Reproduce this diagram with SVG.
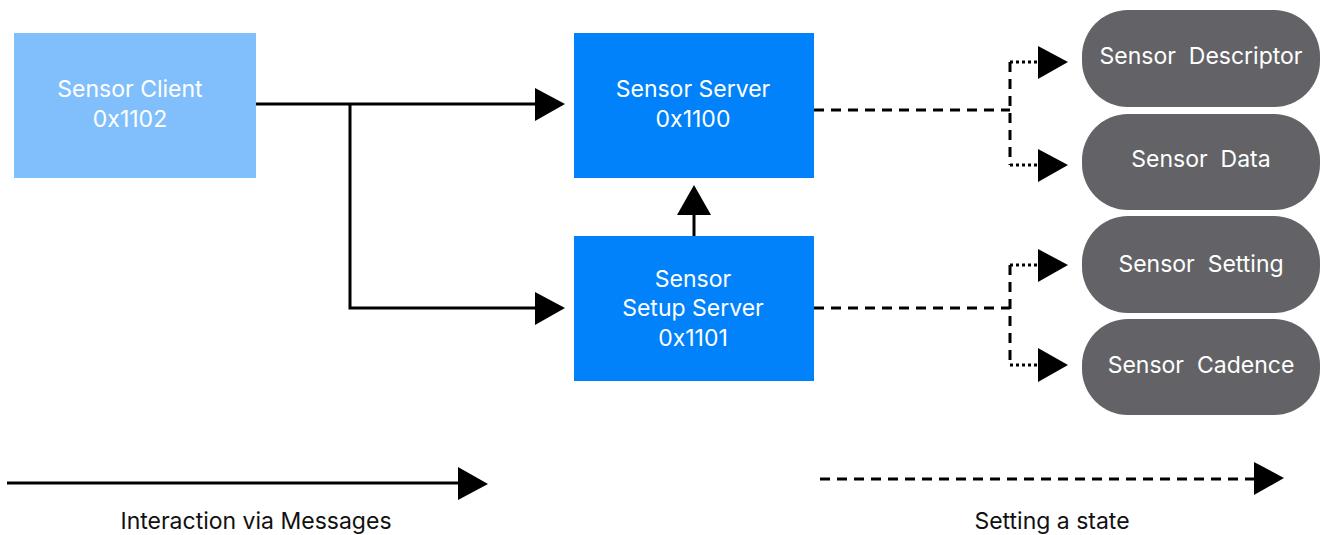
<svg xmlns="http://www.w3.org/2000/svg" width="1320" height="535" viewBox="0 0 1320 535">
<style>
text{font-family:"Inter","Liberation Sans",sans-serif;font-size:23px;text-anchor:middle;white-space:pre}
.w{fill:#ffffff}
.k{fill:#111111}
.solid{fill:none;stroke:#000;stroke-width:3}
.dash{fill:none;stroke:#000;stroke-width:3;stroke-dasharray:10 7}
.dot{fill:none;stroke:#000;stroke-width:3;stroke-dasharray:3 3}
.head{fill:#000}
.state{fill:#636367}
</style>
<rect width="1320" height="535" fill="#ffffff"/>
<g id="connectors">
<path class="solid" d="M256 104 H536"/>
<polygon class="head" points="535,88 565,104 535,121"/>
<path class="solid" d="M350 104 V308 H536"/>
<polygon class="head" points="535,292 565,308 535,325"/>
<path class="solid" d="M694 236 V212"/>
<polygon class="head" points="677,215 694,185 711,215"/>
<path class="dash" d="M814 110 H1010"/>
<path class="dash" d="M1010 62 V165"/>
<path class="dot" d="M1010 62 H1040 M1010 165 H1040"/>
<polygon class="head" points="1038,46 1068,62 1038,79"/>
<polygon class="head" points="1038,149 1068,165 1038,182"/>
<path class="dash" d="M814 308 H1010"/>
<path class="dash" d="M1010 265 V365"/>
<path class="dot" d="M1010 265 H1040 M1010 365 H1040"/>
<polygon class="head" points="1038,249 1068,265 1038,282"/>
<polygon class="head" points="1038,348 1068,365 1038,382"/>
</g>
<g id="sensor-client">
<rect x="14" y="33" width="242" height="145" fill="#81bffc"/>
<text class="w" x="130" y="97">Sensor Client</text>
<text class="w" x="130" y="127">0x1102</text>
</g>
<g id="sensor-server">
<rect x="574" y="33" width="240" height="145" fill="#0282fa"/>
<text class="w" x="693" y="97">Sensor Server</text>
<text class="w" x="693" y="127">0x1100</text>
</g>
<g id="sensor-setup-server">
<rect x="574" y="236" width="240" height="145" fill="#0282fa"/>
<text class="w" x="693" y="287">Sensor</text>
<text class="w" x="693" y="316">Setup Server</text>
<text class="w" x="693" y="346">0x1101</text>
</g>
<g id="sensor-descriptor">
<rect class="state" x="1082" y="10" width="238" height="97" rx="46"/>
<text class="w" x="1201" y="64">Sensor  Descriptor</text>
</g>
<g id="sensor-data">
<rect class="state" x="1082" y="114" width="238" height="96" rx="46"/>
<text class="w" x="1201" y="167">Sensor  Data</text>
</g>
<g id="sensor-setting">
<rect class="state" x="1082" y="216" width="238" height="97" rx="46"/>
<text class="w" x="1201" y="272">Sensor  Setting</text>
</g>
<g id="sensor-cadence">
<rect class="state" x="1082" y="319" width="238" height="96" rx="46"/>
<text class="w" x="1201" y="373">Sensor  Cadence</text>
</g>
<g id="legend">
<path class="solid" d="M7 483 H460"/>
<polygon class="head" points="458,467 488,484 458,500"/>
<text class="k" x="256" y="529">Interaction via Messages</text>
<path class="dash" d="M820 479 H1256"/>
<polygon class="head" points="1254,462 1284,478 1254,495"/>
<text class="k" x="1052" y="529">Setting a state</text>
</g>
</svg>
